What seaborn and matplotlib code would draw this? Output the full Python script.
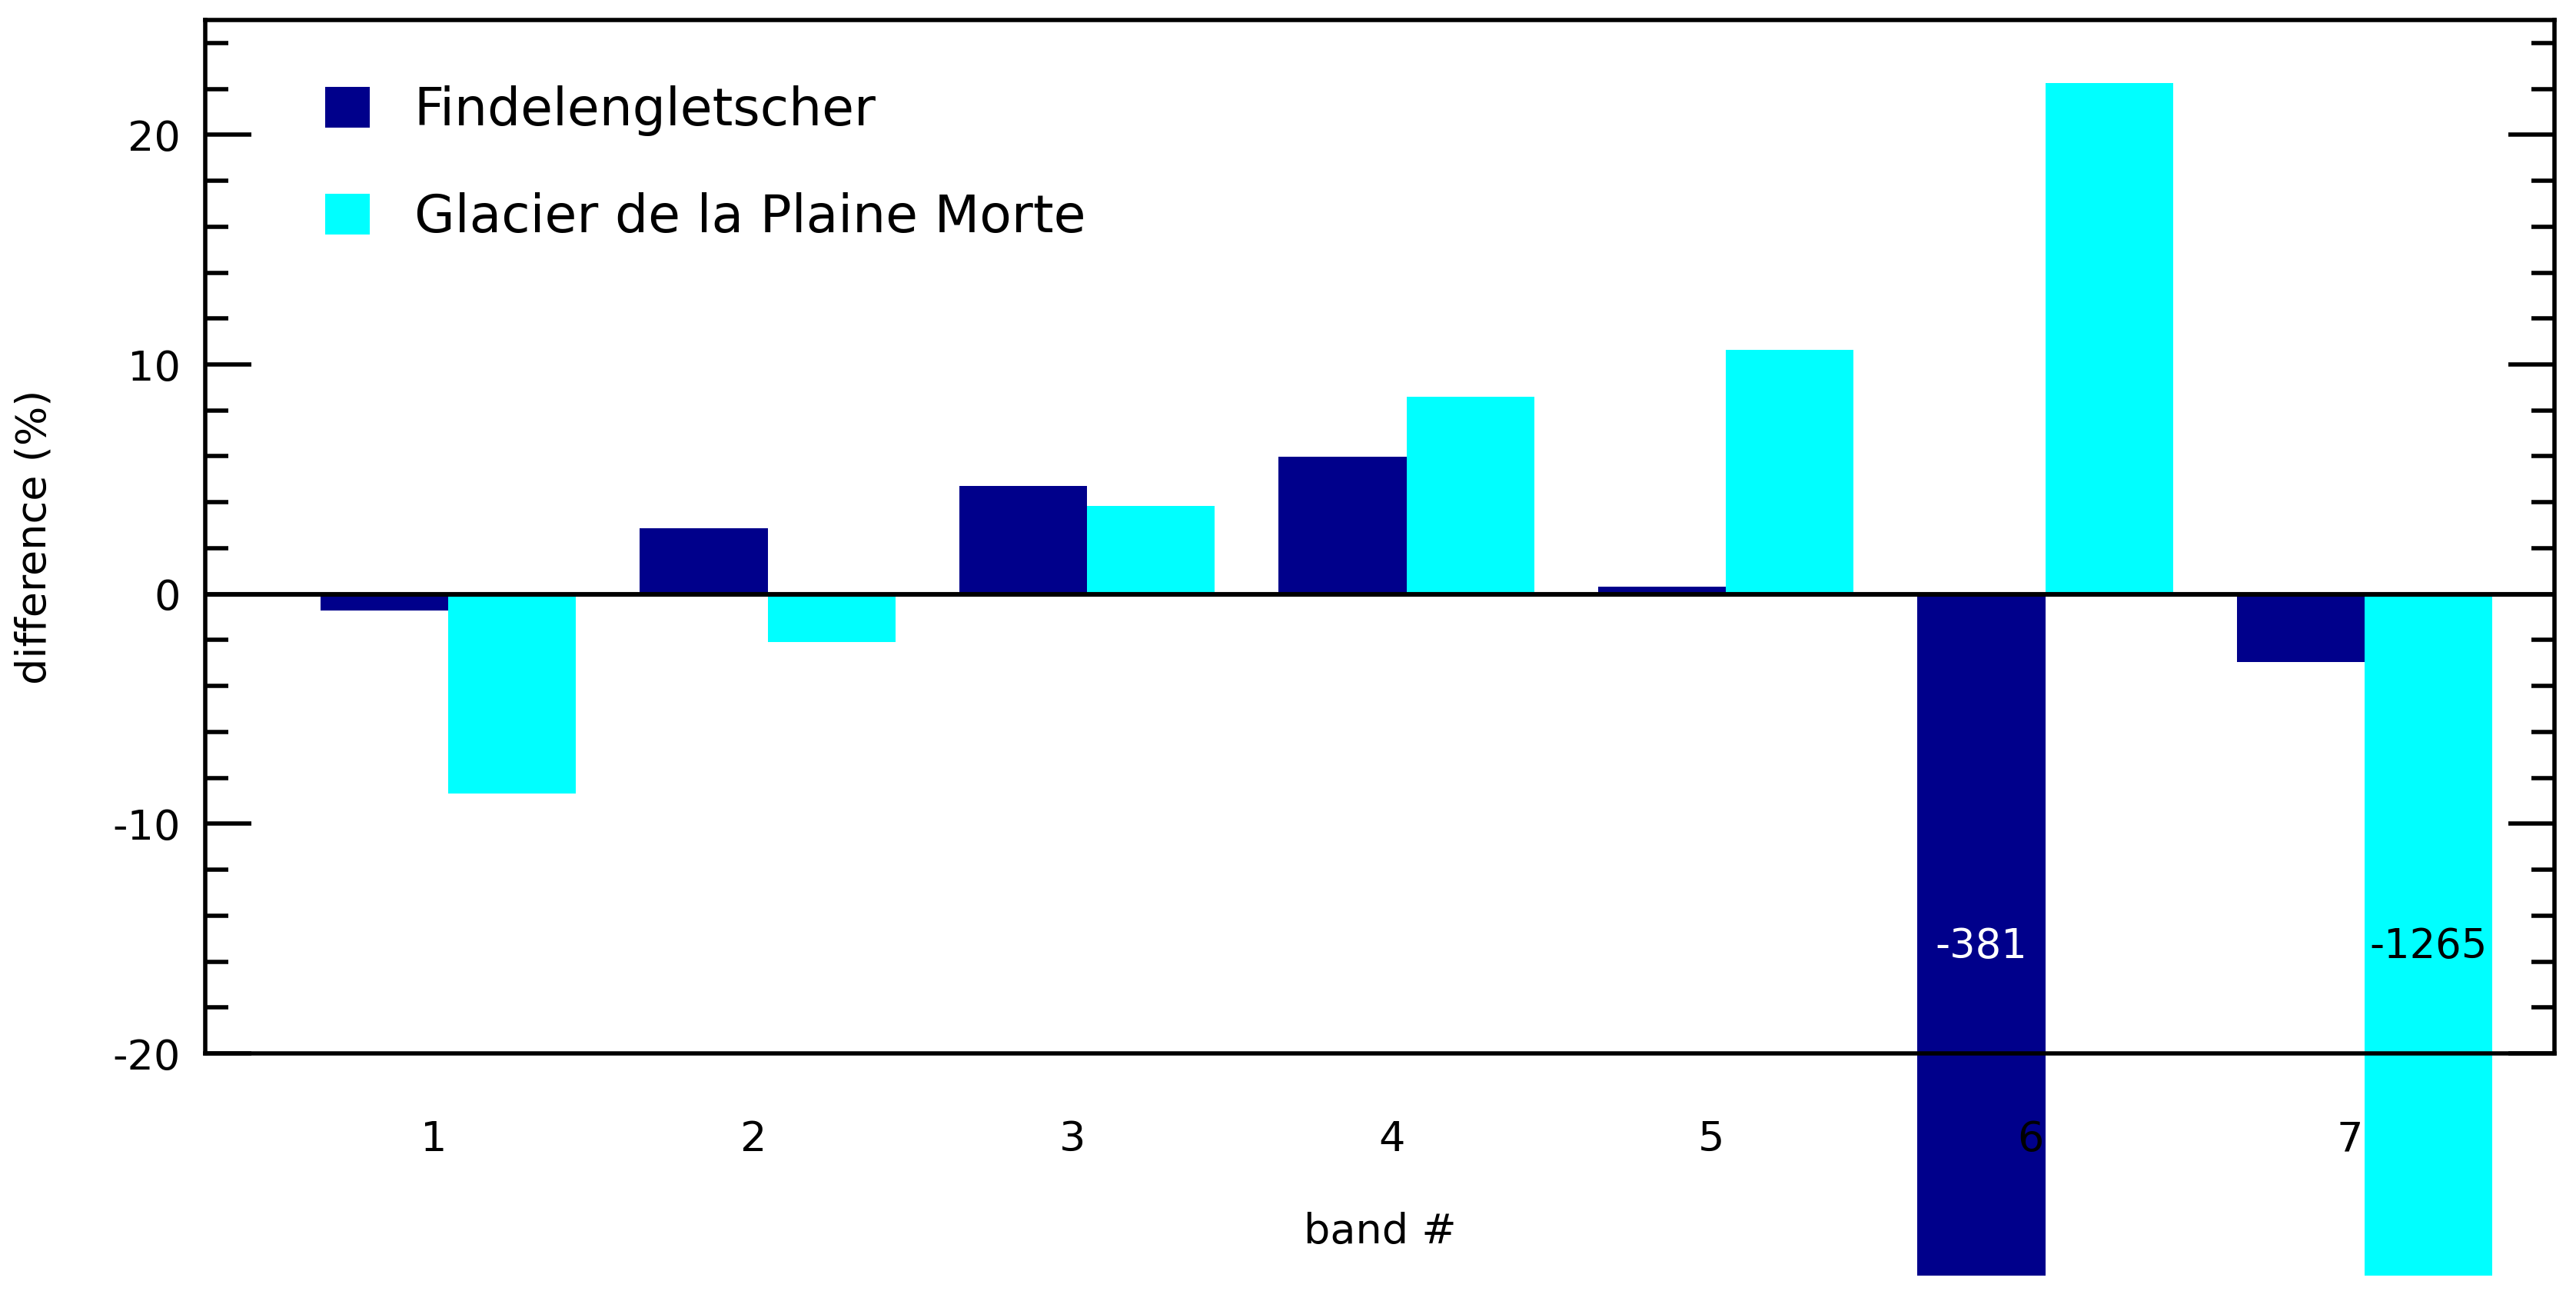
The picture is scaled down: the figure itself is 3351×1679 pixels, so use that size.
import matplotlib
matplotlib.use("Agg")
import matplotlib.pyplot as plt
from matplotlib.patches import Rectangle
from matplotlib.ticker import MultipleLocator
from matplotlib.transforms import ScaledTranslation
import pandas as pd
import seaborn as sns

# data
bands = ["1", "2", "3", "4", "5", "6", "7"]
findelen = [-0.70, 2.88, 4.70, 5.99, 0.33, -381.0, -2.97]
plaine_morte = [-8.69, -2.10, 3.85, 8.59, 10.64, 22.26, -1265.0]
glaciers = ["Findelengletscher", "Glacier de la Plaine Morte"]
colors = ["#00008B", "#00FFFF"]

df = pd.DataFrame({
    "band": bands * 2,
    "glacier": [glaciers[0]] * len(bands) + [glaciers[1]] * len(bands),
    "value": findelen + plaine_morte,
})

sns.set_style("white")
plt.rcParams["font.family"] = ["DejaVu Sans"]
plt.rcParams["axes.unicode_minus"] = False
for k in ["text.color", "axes.labelcolor", "xtick.color", "ytick.color", "axes.edgecolor"]:
    plt.rcParams[k] = "black"

W, H, DPI = 3351, 1679, 200
fig = plt.figure(figsize=(W / DPI, H / DPI), dpi=DPI)
ax_l, ax_b = 267 / W, 1 - 1370 / H
ax_w, ax_h = 3056 / W, 1344 / H
ax = fig.add_axes([ax_l, ax_b, ax_w, ax_h])

sns.barplot(data=df, x="band", y="value", hue="glacier", palette=colors,
            saturation=1, width=0.8, errorbar=None, linewidth=0, ax=ax)

ax.set_ylim(-20, 25)
ax.set_xlim(-0.761, 6.594)
ax.set_axisbelow(False)

# the two huge negative bars run past the axes down to near the figure edge
clip = Rectangle((ax_l, 20 / H), ax_w, ax_b + ax_h - 20 / H,
                 transform=fig.transFigure, visible=False)
fig.add_artist(clip)
for p in ax.patches:
    p.set_clip_path(clip)

ax.axhline(0, color="black", lw=2.2, zorder=3)

# labels for out-of-range bars
for cont, vals, col in zip(ax.containers, [findelen, plaine_morte], ["white", "black"]):
    for bar, v in zip(cont, vals):
        if v < -20:
            ax.text(bar.get_x() + bar.get_width() / 2, -15.35, f"{v:.0f}",
                    ha="center", va="center", color=col, fontsize=19, zorder=4)

for s in ax.spines.values():
    s.set_linewidth(2.0)
    s.set_color("black")

ax.yaxis.set_major_locator(MultipleLocator(10))
ax.yaxis.set_minor_locator(MultipleLocator(2))
ax.tick_params(axis="y", which="both", direction="in", left=True, right=True,
               width=2.0, labelsize=19.5, pad=11.5)
ax.tick_params(axis="y", which="major", length=21.6)
ax.tick_params(axis="y", which="minor", length=10.8)
ax.tick_params(axis="x", which="both", length=0, labelsize=19.5, pad=31)
for lab in ax.get_xticklabels():
    lab.set_transform(lab.get_transform() + ScaledTranslation(-19 / DPI, 0, fig.dpi_scale_trans))

ax.set_xlabel("band #", fontsize=19.5)
ax.set_ylabel("difference (%)", fontsize=19.5)
ax.xaxis.set_label_coords(0.5, (1370 - 1576) / 1344)
ax.yaxis.set_label_coords((70 - 267) / 3056, 0.5)

ax.legend(loc="upper left", bbox_to_anchor=(0.051, 0.937), frameon=False,
          fontsize=24.5, borderpad=0, handlelength=0.85, handleheight=0.82,
          handletextpad=0.85, labelspacing=1.08, borderaxespad=0)

fig.savefig("out.png", dpi=DPI, facecolor="white")
